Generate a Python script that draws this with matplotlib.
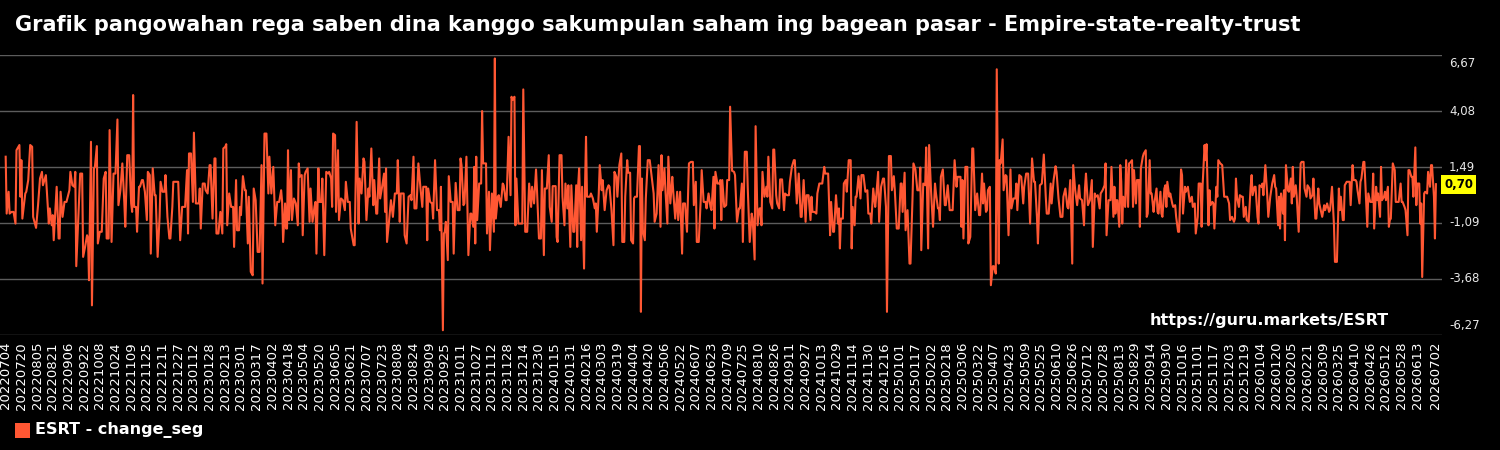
import matplotlib
matplotlib.use("Agg")
import matplotlib.pyplot as plt
from matplotlib.patches import Rectangle
from matplotlib.transforms import offset_copy
import pandas as pd

# day offset from 2022-07-04 : daily change
part_2022a = [(0, 1.97), (1, -0.66), (3, 0.35), (4, -0.66), (6, -0.58), (8, -0.58), (10, -1.12), (11, 2.27),
              (14, 2.51), (15, 0.12), (16, 1.81), (17, -0.89), (20, 0.27), (21, 0.35), (23, 0.89), (25, 2.51),
              (27, 2.43), (28, -0.81), (31, -1.32), (33, -0.27), (35, 0.96), (37, 1.27), (38, 0.65), (41, 1.12),
              (44, -1.12), (45, -0.42), (47, -1.20), (48, -0.73), (49, -1.89), (52, 0.58), (54, -1.81), (55, -1.81),
              (56, 0.35), (58, -0.81), (60, -0.12), (62, -0.12), (65, 0.42), (66, 1.27), (68, 0.65), (70, 0.58),
              (71, 1.27), (72, -3.09), (74, -0.96), (76, 1.19), (78, 1.19), (79, -2.66), (81, -2.20), (83, -1.66),
              (84, -1.81), (85, -3.74), (87, 2.66), (88, -4.90), (90, 1.43), (91, 1.50), (93, 2.46), (94, -2.04),
              (96, -1.50), (98, -1.50), (100, 0.96), (102, 1.27), (103, -1.81), (105, -1.81), (106, 3.20),
              (108, -1.97), (110, 1.19), (112, 1.19), (114, 3.69), (115, -0.27), (117, 0.42)]
part_2022b = [(119, 1.66), (121, -0.12), (122, -1.27), (124, 2.04), (126, 2.04), (128, -0.19), (129, -0.58),
              (130, 4.82), (131, -0.35), (133, -0.35), (134, -1.50), (136, 0.58), (137, 0.58), (139, 0.89),
              (140, 0.89), (142, 0.35), (144, -0.96), (145, 1.27), (147, 1.12), (148, -2.51), (150, 1.43),
              (152, 0.19), (153, 0.19), (155, -2.66), (157, -0.81), (158, 0.81), (160, 0.35), (162, 0.35),
              (163, 1.12), (165, -0.81), (167, -1.81), (168, -1.81), (170, -0.35), (171, 0.81), (173, 0.81),
              (176, 0.81), (178, -1.89), (180, -0.35), (181, -0.35), (183, -0.35), (185, 1.35), (186, -1.58),
              (187, 2.12), (189, 2.12), (191, -0.12), (192, 3.08), (194, -0.19), (196, -0.19), (197, -0.19),
              (198, 0.50), (199, -1.35), (201, 0.73), (203, 0.73), (204, 0.42), (206, 0.27), (208, 1.58),
              (209, 1.58), (211, -0.89), (213, 1.89), (214, 1.89), (215, -1.58), (217, -1.58), (219, -0.58),
              (221, -1.58), (222, 2.35), (224, 2.43), (225, 2.55), (226, -1.20), (228, 0.27), (230, -0.35),
              (232, -0.35), (233, -2.20), (235, 0.89), (236, -1.43), (238, -1.43), (239, -0.35)]
part_2023a = [(240, -0.73), (242, 1.07), (244, 0.42), (245, 0.42), (247, -2.04), (248, 0.12), (250, -3.35),
              (252, -3.51), (253, 0.50), (255, -0.04), (257, -2.43), (259, -2.43), (261, 1.58), (262, -3.89),
              (264, 3.04), (266, 3.04), (268, 0.27), (269, 1.97), (271, 0.27), (273, 1.50), (275, -1.20),
              (277, -0.12), (279, -0.12), (281, 0.42), (282, -0.12), (283, -1.97), (285, -0.19), (286, -1.35),
              (287, -1.35), (288, 2.27), (289, -0.96), (291, 1.35), (292, -0.96), (294, 0.04), (296, -0.19),
              (298, -1.20), (299, 1.66), (300, 1.04), (302, 1.12), (303, -1.66), (305, 1.12), (306, 1.27),
              (308, 1.43), (310, -1.04), (311, 0.50), (313, -1.04), (315, -0.35), (316, -0.12), (317, -2.51),
              (319, 1.43), (320, -0.12), (322, -0.12), (323, 0.96), (325, -2.58), (327, 1.27), (329, 1.19),
              (330, 1.27), (332, 0.96), (333, -0.35), (334, 3.04), (336, 2.97), (337, -0.58), (339, 2.27),
              (340, -0.96), (342, 0.04), (344, -0.04), (346, -0.50), (347, 0.81), (349, -0.12), (351, -0.12),
              (352, -1.35), (355, -2.12), (356, -2.12), (358, 3.58), (360, -1.12), (361, 0.96)]
part_2023b = [(363, 0.27), (365, 1.89), (366, 1.73), (368, -0.96), (370, 0.50), (371, 0.12), (373, 2.35),
              (375, -0.27), (376, 0.89), (378, -0.66), (379, -0.66), (381, 1.89), (382, 0.04), (384, 0.58),
              (386, 1.19), (387, -0.58), (388, 1.43), (389, -1.97), (391, -1.04), (393, -0.04), (395, -0.81),
              (397, 0.27), (399, 0.27), (400, 1.81), (402, -1.04), (403, 0.27), (406, 0.27), (407, -1.66),
              (409, -2.04), (411, 0.12), (413, 0.19), (414, -0.04), (416, 1.97), (417, -0.42), (419, -0.42),
              (421, 1.66), (423, 0.58), (425, -0.35), (426, 0.58), (429, 0.58), (430, -1.89), (431, 0.50),
              (433, -0.12), (435, -0.19), (436, -0.89), (438, 1.81), (440, -0.50), (442, -0.50), (443, -1.43),
              (444, 0.58), (446, -6.05), (447, -1.58), (448, -1.50), (449, -1.04), (451, -2.81), (452, 1.07),
              (454, -0.12), (456, -0.12), (457, -2.51), (459, 0.76), (461, -0.50), (463, -0.50), (464, 1.89),
              (465, 1.58), (467, -0.27), (468, -0.19), (470, 1.97), (472, -2.58), (474, -0.66), (475, -0.66),
              (477, -1.27), (478, 1.50), (479, -2.04), (480, 1.97), (481, -0.96), (483, 0.73)]
part_2023c = [(485, 0.73), (486, 4.08), (487, 1.66), (490, 1.66), (491, -1.58), (493, 0.35), (494, -2.35), (496, 0.27),
              (498, -1.50), (499, 6.51), (500, -0.89), (502, 0.12), (503, 0.19), (505, -0.35), (507, 0.73),
              (508, 0.65), (510, -0.04), (511, -0.04), (513, 2.89), (515, 0.19), (516, 4.74), (517, 4.59),
              (519, 4.74), (520, -1.20), (521, 0.96), (523, -1.12), (525, -1.12), (527, -1.12), (528, 5.08),
              (530, -1.50), (532, -1.50), (534, 0.73), (536, -0.35), (537, 0.58), (539, -0.19), (541, 1.38),
              (542, 0.42), (544, -1.81), (546, -1.81), (547, 1.35), (549, -2.58), (550, 0.50), (552, 0.50),
              (554, 2.04), (555, -0.35), (557, -1.04), (558, 0.61), (561, 0.61), (562, -1.74), (563, -1.97),
              (565, 2.04), (567, 2.04), (568, 0.12), (570, -1.20), (571, 0.73), (573, -0.42), (574, 0.65),
              (576, -2.20), (577, 0.65), (579, -1.50), (580, -1.50), (582, 0.65), (583, -2.20), (584, 0.65),
              (585, 1.43), (587, -1.89), (588, 0.58), (590, -3.20), (591, 0.58), (592, 2.89), (593, 0.12),
              (596, 0.12), (597, 0.27), (599, 0.04), (601, -0.42), (602, -0.19), (603, -1.50), (605, 0.27),
              (606, 1.58)]
part_2024a = [(608, 0.42), (609, 0.89), (611, -0.50), (613, 0.42), (615, 0.65), (616, 0.58), (618, -0.50),
              (620, -2.12), (621, 1.27), (623, 1.04), (624, 0.12), (626, 1.58), (628, 2.12), (629, -1.97),
              (631, -1.97), (632, 0.12), (634, 1.81), (635, 1.23), (637, 1.23), (638, -1.89), (640, -2.04),
              (641, 0.04), (642, 0.12), (644, 0.12), (646, 2.46), (647, 2.46), (648, -5.20), (649, 0.96),
              (650, -1.43), (652, -1.89), (653, 0.04), (655, 1.81), (657, 1.81), (659, 1.04), (661, 0.27),
              (662, -1.04), (664, -0.66), (666, 1.58), (668, -1.27), (669, 2.04), (670, 0.42), (672, 1.43),
              (673, 0.42), (675, -1.12), (676, 1.97), (678, -0.19), (680, 1.04), (681, 0.35), (683, -0.89),
              (685, 0.35), (686, -0.96), (688, 0.35), (690, -2.51), (691, -0.19), (693, -0.19), (695, -1.50),
              (697, 1.66), (699, 1.73), (701, 1.73), (702, -0.27), (704, 0.81), (705, -1.97), (707, -1.97),
              (709, -0.04), (710, 1.35), (712, -0.12), (714, -0.12), (715, -0.42), (717, 0.27), (719, -0.35),
              (720, -0.50), (722, 1.04), (723, -1.35), (724, 1.27), (726, 0.73), (728, 0.73), (729, 0.89)]
part_2024b = [(730, -0.96), (731, 0.89), (733, -0.35), (735, -0.27), (736, 0.89), (738, 0.89), (739, 4.28),
              (741, 1.32), (743, 1.27), (744, 1.12), (746, -1.04), (748, -0.42), (749, -0.42), (751, 0.73),
              (752, -1.97), (754, 2.20), (756, 2.20), (757, 0.50), (759, -1.97), (761, -0.66), (762, -0.89),
              (764, -2.78), (765, 3.38), (767, -1.20), (769, -0.42), (770, -0.42), (771, -1.20), (772, 1.27),
              (774, 0.12), (776, 0.58), (777, 0.12), (778, 1.97), (780, -0.12), (782, -0.42), (783, 2.30),
              (784, 2.30), (786, 0.19), (787, -0.19), (789, -0.42), (790, 0.92), (792, 0.92), (794, -0.50),
              (795, 0.27), (797, 0.19), (799, 0.19), (800, 0.81), (802, 1.50), (804, 1.81), (805, 1.81),
              (807, -0.19), (809, 1.19), (811, -0.81), (812, -0.81), (814, 0.89), (816, -1.04), (817, 0.19),
              (819, 0.19), (821, -0.96), (822, 0.12), (823, -0.58), (825, -0.58), (827, -0.66), (828, 0.27),
              (830, 0.73), (832, 0.73), (833, 0.73), (835, 1.50), (836, 1.19), (838, 1.19), (839, 1.19),
              (841, -1.66), (842, -0.12), (844, -1.50), (845, -1.50), (847, 0.19), (849, -1.12), (850, -0.42),
              (851, -2.27), (852, -0.89)]
part_2024c = [(853, -0.89), (854, -0.89), (855, 0.73), (857, 0.89), (858, 0.35), (860, 1.81), (862, 1.81),
              (863, -2.27), (864, -0.35), (866, -1.20), (867, 0.12), (868, 0.12), (870, 1.07), (872, 0.04),
              (873, 1.12), (875, 1.12), (877, 0.35), (879, 0.42), (880, -0.66), (882, -0.66), (883, -1.12),
              (885, 0.50), (887, -0.35), (888, 0.12), (890, 1.27), (891, -1.04), (893, 0.58), (895, 0.96),
              (896, 0.96), (898, -0.35), (899, -5.20), (901, 2.00), (903, 2.00), (904, 0.42), (906, 1.07),
              (907, 0.42), (909, -1.35), (911, -1.35), (913, 0.73), (914, 0.73), (915, -0.58), (917, 1.23),
              (918, -1.43), (920, -0.50), (922, -2.97), (923, -2.97), (925, -0.04), (926, 1.66), (928, 1.38),
              (930, 0.42), (932, 0.42), (933, 1.47), (934, -2.35), (936, 0.73), (938, 0.65), (939, 2.40),
              (941, -2.27), (942, 2.51), (944, 0.35), (946, -1.27), (948, 0.73), (949, 0.27), (951, -0.42),
              (952, -0.42), (953, -0.96), (954, 1.04), (956, 1.38), (958, -0.27), (959, -0.27), (961, 0.65),
              (963, -0.50), (964, -0.50), (966, -0.50), (968, 1.81), (970, 0.58), (971, 1.04), (973, 1.04)]
part_2025a = [(974, 1.04), (975, -1.27), (976, 0.89), (977, -1.81), (979, 1.50), (981, 1.50), (982, -2.04),
              (984, -1.74), (986, 2.35), (987, 2.35), (989, -0.50), (991, 0.27), (993, -0.73), (994, -0.73),
              (996, 1.19), (997, -0.19), (998, 0.73), (1000, -0.58), (1001, -0.50), (1002, 0.42), (1004, 0.58),
              (1005, -3.97), (1007, -3.09), (1008, -3.09), (1010, -3.43), (1011, 6.01), (1013, -2.97),
              (1014, 1.81), (1015, 1.66), (1017, 2.77), (1018, 0.42), (1020, 1.12), (1021, 1.07), (1023, -1.66),
              (1025, 1.38), (1026, -0.42), (1028, 0.04), (1030, 0.04), (1031, 0.73), (1032, -0.50), (1034, 1.12),
              (1036, 1.04), (1038, -0.19), (1039, 0.58), (1041, 1.19), (1043, 1.19), (1045, -1.12), (1047, 1.89),
              (1049, 0.81), (1050, 0.81), (1052, -0.81), (1053, -2.04), (1055, 0.65), (1057, 0.73), (1059, 2.07),
              (1061, 0.12), (1062, -0.66), (1064, -0.66), (1066, 0.73), (1067, -0.19), (1069, 0.89), (1071, 1.53),
              (1072, 1.27), (1074, 0.04), (1076, -0.81), (1078, -0.81), (1079, 0.12), (1081, 0.50), (1083, -0.35),
              (1084, -0.42), (1086, 0.89), (1088, -2.97), (1089, 1.58), (1091, 0.42), (1093, -0.27), (1095, 0.65),
              (1096, 0.04)]
part_2025b = [(1098, -0.04), (1100, -1.20), (1101, 0.50), (1102, 1.19), (1104, -0.27), (1106, -0.04),
              (1108, 0.89), (1109, -2.20), (1111, 0.27), (1112, 0.12), (1114, 0.19), (1116, -0.42), (1117, 0.27),
              (1119, 0.42), (1121, 0.65), (1122, 1.66), (1123, -1.66), (1125, -0.04), (1127, -0.04), (1128, 1.50),
              (1130, -0.81), (1131, 0.58), (1132, -0.66), (1133, -0.04), (1134, -0.04), (1136, -1.27), (1137, 1.58),
              (1138, 0.81), (1139, -1.12), (1140, 0.12), (1142, -0.35), (1143, 1.81), (1145, -0.35), (1146, 1.66),
              (1147, 1.69), (1149, 1.81), (1150, -0.35), (1151, 1.35), (1153, -0.19), (1154, 0.89), (1156, 0.89),
              (1157, -1.27), (1158, 1.43), (1160, 1.97), (1161, 2.12), (1163, 2.27), (1164, -0.81), (1165, -0.66),
              (1167, 1.81), (1168, 0.27), (1169, 0.27), (1171, -0.58), (1172, -0.12), (1174, 0.50), (1175, -0.58),
              (1176, -0.66), (1178, 0.35), (1179, -0.66), (1180, -0.81), (1182, 0.50), (1183, 0.65), (1184, -0.35),
              (1185, 0.81), (1187, 0.12), (1188, 0.27), (1190, -0.19), (1191, -0.35), (1193, -0.27), (1194, -0.81),
              (1196, -1.50), (1197, -1.50), (1199, 1.38), (1200, 1.12), (1201, -0.66), (1203, 0.58), (1204, 0.35),
              (1206, 0.58), (1207, 0.19), (1208, -0.12), (1210, 0.12), (1211, -0.35), (1213, -0.19), (1214, -1.58),
              (1216, -0.81), (1217, 0.73), (1219, 0.73)]
part_2026a = [(1220, -1.27), (1221, 0.65), (1223, 2.51), (1224, 1.81), (1225, 2.55), (1227, -1.20), (1228, 0.42),
              (1229, -0.27), (1231, -0.12), (1232, -0.19), (1233, -1.35), (1235, 0.58), (1236, 0.12), (1237, 1.81),
              (1239, 1.66), (1241, 1.58), (1243, 0.12), (1244, 0.12), (1246, 0.12), (1248, -0.19), (1249, -0.96),
              (1251, -0.81), (1253, -1.04), (1254, -0.89), (1255, 0.96), (1256, 0.12), (1258, -0.35), (1259, 0.19),
              (1261, 0.12), (1262, 0.12), (1263, -0.81), (1265, -0.35), (1266, -0.96), (1268, -1.04), (1270, 0.58),
              (1271, 1.12), (1272, 0.19), (1274, 0.58), (1275, 0.58), (1277, -0.81), (1278, -1.12), (1279, 0.65),
              (1281, 0.58), (1282, 0.73), (1283, 0.19), (1285, 1.58), (1287, 0.12), (1288, -0.81), (1290, 0.12),
              (1292, 0.73), (1294, 1.12), (1295, 0.58), (1296, 0.50), (1298, -1.20), (1299, 0.12), (1300, -1.35),
              (1301, 0.27), (1303, -0.66), (1304, 0.42), (1305, -1.89), (1306, 1.58), (1308, 0.42), (1309, 0.35),
              (1311, 0.96), (1312, -0.19), (1313, 1.50), (1314, 0.12), (1316, 0.65), (1317, 0.12), (1319, -1.50),
              (1321, 1.66), (1322, 1.73), (1324, 1.73), (1325, 0.50), (1327, 0.12), (1328, 0.65), (1330, 0.50),
              (1331, 0.04), (1333, 0.19), (1334, 0.96), (1336, -0.89), (1337, -0.89), (1339, 0.50), (1340, -0.19)]
part_2026b = [(1343, -0.81), (1345, -0.27), (1346, -0.50), (1348, -0.19), (1350, -0.58), (1351, -0.50),
              (1353, 0.58), (1355, -1.20), (1356, -2.89), (1358, -2.89), (1360, 0.50), (1361, -0.50), (1362, 0.12),
              (1364, -0.96), (1365, -0.96), (1366, 0.65), (1368, 0.81), (1369, 0.81), (1371, 0.81), (1372, -0.27),
              (1374, 1.58), (1375, 0.89), (1377, 0.89), (1378, 0.81), (1379, 0.42), (1381, -0.19), (1382, 0.81),
              (1383, 0.96), (1385, 1.73), (1386, 1.73), (1388, -0.27), (1389, -1.27), (1390, 0.27), (1392, -0.12),
              (1394, -0.12), (1395, 1.19), (1396, -1.35), (1398, 0.58), (1399, -0.04), (1400, 0.27), (1402, -0.81),
              (1403, 1.50), (1404, -0.04), (1406, 0.12), (1407, 0.35), (1408, -0.04), (1410, 0.58), (1411, -1.27),
              (1412, -0.96), (1413, -0.89), (1415, 1.66), (1417, 1.35), (1418, -0.12), (1419, -0.12), (1421, -0.12),
              (1423, 0.73), (1424, -0.12), (1425, -0.12), (1427, -0.35), (1428, -0.50), (1430, -1.66), (1431, 1.35),
              (1432, 1.35), (1434, 1.04), (1435, 1.04), (1436, 0.12), (1438, 2.40), (1439, -0.27), (1440, 0.73),
              (1442, 0.73), (1443, -1.12), (1444, -0.19), (1445, -3.59), (1447, 0.27), (1448, 0.35), (1450, 0.27),
              (1451, 1.27), (1453, 0.58), (1454, 1.58), (1455, 1.58), (1457, 0.12), (1458, -1.81), (1459, 0.70)]

start_date = pd.Timestamp("2022-07-04")
end_date = pd.Timestamp("2026-07-02")
y_ticks = [6.67, 4.08, 1.49, -1.09, -3.68, -6.27]
ticker = "ESRT"
series_name = "change_seg"
title = "Grafik pangowahan rega saben dina kanggo sakumpulan saham ing bagean pasar - Empire-state-realty-trust"

LINE_COLOR = "#ff5733"
BG = "black"

points = sorted(part_2022a + part_2022b + part_2023a + part_2023b + part_2023c + part_2024a + part_2024b
                + part_2024c + part_2025a + part_2025b + part_2026a + part_2026b)
x = [p[0] for p in points]
y = [p[1] for p in points]
last_value = y[-1]

fig = plt.figure(figsize=(15, 4.5), dpi=100, facecolor=BG)
ax = fig.add_axes([0.0, 1 - 335 / 450, 1442 / 1500, 280 / 450])
ax.set_facecolor(BG)

ax.plot(x, y, color=LINE_COLOR, lw=1.5, zorder=3)

n_days = (end_date - start_date).days
ax.set_xlim(-5.8, n_days + 6.2)
ax.set_ylim(min(y_ticks), max(y_ticks))

# x ticks every 16 days plus the last date
tick_days = list(range(0, n_days - 15, 16)) + [n_days]
tick_labels = [(start_date + pd.Timedelta(days=d)).strftime("%Y%m%d") for d in tick_days]
ax.set_xticks(tick_days)
ax.set_xticklabels(tick_labels, rotation=90, fontsize=9.5, color="white")
ax.tick_params(axis="x", length=0, pad=5)

# y labels on the right, edge ones pulled inside
ax.set_yticks(y_ticks)
ax.tick_params(axis="y", length=0, labelleft=False, labelright=False)
ytrans = ax.get_yaxis_transform()
for v in y_ticks:
    dy = 0
    if v == max(y_ticks):
        dy = -9
    elif v == min(y_ticks):
        dy = 9
    tr = offset_copy(ytrans, fig=fig, x=7, y=dy, units="dots")
    ax.text(1.0, v, f"{v:.2f}".replace(".", ","), transform=tr, ha="left", va="center",
            fontsize=8.5, color="#e8e8e8", clip_on=False)

ax.grid(axis="y", color="#5c5c5c", lw=1.0)
ax.grid(axis="x", visible=False)
for s in ax.spines.values():
    s.set_visible(False)

# last value badge
ax.text(1.0015, last_value, f"{last_value:.2f}".replace(".", ","), transform=ax.get_yaxis_transform(),
        ha="left", va="center", fontsize=8.5, fontweight="bold", color="black",
        bbox=dict(boxstyle="square,pad=0.25", fc="#ffff00", ec="none"), zorder=5)

ax.text(0.963, 0.053, f"https://guru.markets/{ticker}", transform=ax.transAxes, ha="right", va="center",
        fontsize=11.5, fontweight="bold", color="white", zorder=4)

fig.text(15 / 1500, 1 - 25 / 450, title, ha="left", va="center", fontsize=15, fontweight="bold", color="white")

# legend
fig.add_artist(Rectangle((15 / 1500, 1 - 438 / 450), 15 / 1500, 15 / 450, transform=fig.transFigure,
                         facecolor=LINE_COLOR, edgecolor="none"))
fig.text(35 / 1500, 1 - 430 / 450, f"{ticker} - {series_name}", ha="left", va="center",
         fontsize=11.5, fontweight="bold", color="white")

fig.savefig("out.png", dpi=100, facecolor=BG)
